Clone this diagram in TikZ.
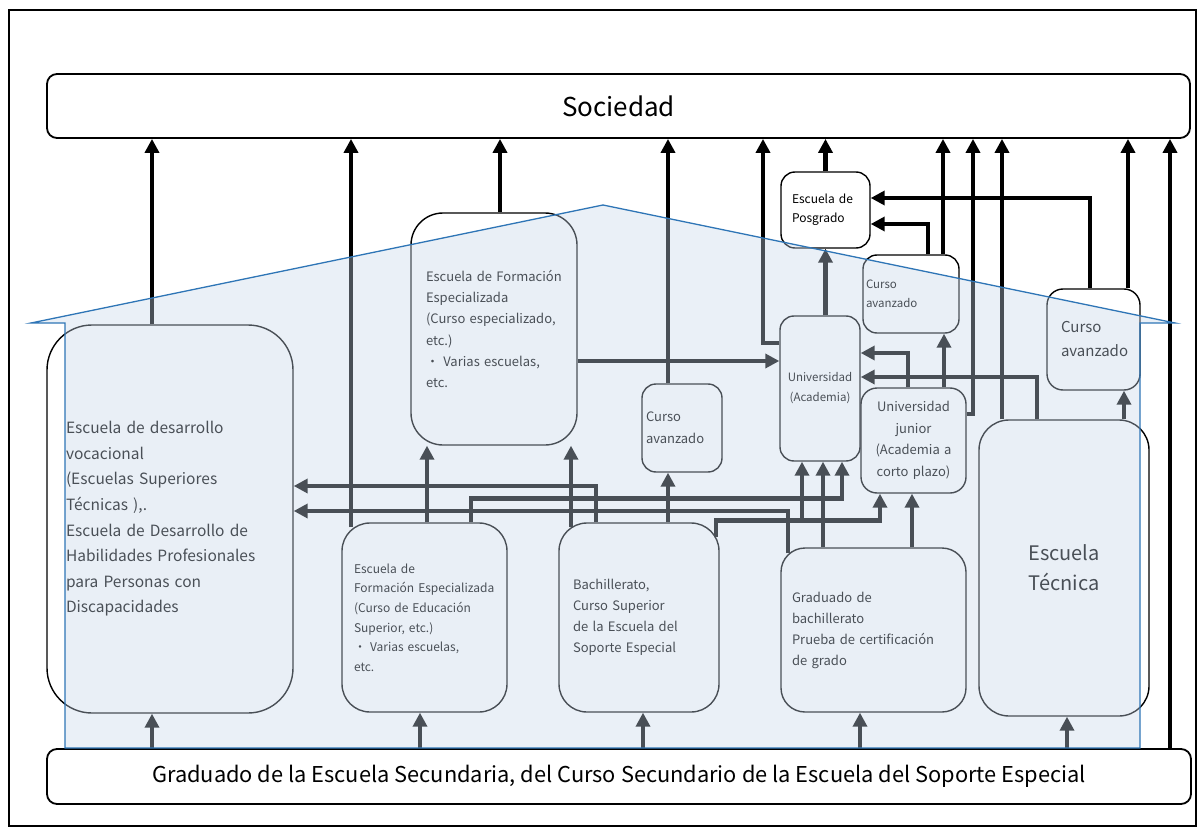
\documentclass[tikz,border=0pt]{standalone}
\usepackage{fontspec}
\setmainfont{Noto Sans CJK JP}
\usetikzlibrary{arrows.meta,calc}
\definecolor{housefill}{RGB}{198,214,233}
\definecolor{houseline}{RGB}{46,117,182}
\newcommand{\fsz}[2]{\fontsize{#1}{#2}\selectfont}
\hyphenpenalty=10000

\begin{document}
\begin{tikzpicture}[x=1pt,y=-1pt]

\tikzstyle{box} = [draw, fill=white, line width=1.4pt, rectangle,
	rounded corners=24pt, align=left, inner ysep=0pt];
\tikzstyle{arr} = [line width=4.6pt, -{Triangle[width=14pt,length=14pt]}];
\useasboundingbox (0,0) rectangle (1202,829);
\draw[line width=2.5pt] (9,10) rectangle (1196,826);

\node[box, rounded corners=10pt, line width=1.8pt, minimum width=1143pt, minimum height=64pt, align=center, font=\fsz{26}{30}] (soc) at (618.5,106) {Sociedad};
\node[box, rounded corners=10pt, line width=1.8pt, minimum width=1144pt, minimum height=55pt, align=center, font=\fsz{21.8}{24}] (grad) at (619,776.5) {Graduado de la Escuela Secundaria, del Curso Secundario de la Escuela del Soporte Especial};

\node[box, rounded corners=45pt, minimum width=246pt, minimum height=388pt, inner xsep=19pt, text width=208pt, font=\fsz{15.5}{25.6}] (dv) at (170,519) {Escuela de desarrollo\\ vocacional\\ (Escuelas Superiores\\ Técnicas ),.\\ Escuela de Desarrollo de\\ Habilidades Profesionales\\ para Personas con\\ Discapacidades};
\node[box, rounded corners=32pt, minimum width=166pt, minimum height=232pt, inner xsep=15pt, text width=136pt, font=\fsz{13}{21.3}] (efe1) at (494,329) {Escuela de Formación\\ Especializada\\ (Curso especializado,\\ etc.)\\ ・ Varias escuelas,\\ etc.};
\node[box, rounded corners=28pt, minimum width=165pt, minimum height=189pt, inner xsep=12pt, text width=141pt, font=\fsz{12}{19.6}] (efe2) at (424.5,617.5) {Escuela de\\ Formación Especializada\\ (Curso de Educación\\ Superior, etc.)\\ ・ Varias escuelas,\\ etc.};
\node[box, rounded corners=28pt, minimum width=160pt, minimum height=189pt, inner xsep=14pt, text width=132pt, font=\fsz{13}{21}] (bach) at (639,617.5) {Bachillerato,\\ Curso Superior\\ de la Escuela del\\ Soporte Especial};
\node[box, rounded corners=14pt, minimum width=80pt, minimum height=88pt, inner xsep=4pt, text width=72pt, font=\fsz{13}{22}] (ca1) at (682,428) {Curso\\ avanzado};
\node[box, rounded corners=14pt, minimum width=80pt, minimum height=145pt, inner xsep=2pt, text width=76pt, align=center, font=\fsz{11.5}{20}] (univ) at (820,388.5) {Universidad\\ (Academia)};
\node[box, rounded corners=16pt, minimum width=105pt, minimum height=105pt, inner xsep=3pt, text width=99pt, align=center, font=\fsz{13}{21.5}] (junior) at (913.5,440.5) {Universidad\\ junior\\ (Academia a\\ corto plazo)};
\node[box, rounded corners=14pt, minimum width=96pt, minimum height=78pt, inner xsep=3pt, text width=90pt, font=\fsz{11.5}{19}] (ca2) at (911,294) {Curso\\ avanzado};
\node[box, rounded corners=14pt, minimum width=89pt, minimum height=76pt, inner xsep=11pt, text width=67pt, font=\fsz{12}{19}] (posg) at (825.5,210) {Escuela de\\ Posgrado};
\node[box, rounded corners=16pt, minimum width=93pt, minimum height=101pt, inner xsep=14pt, text width=65pt, font=\fsz{15}{24}] (ca3) at (1093.5,339.5) {Curso\\ avanzado};
\node[box, rounded corners=30pt, minimum width=170pt, minimum height=296pt, inner xsep=10pt, text width=150pt, align=center, font=\fsz{20}{30}] (tec) at (1064,568) {Escuela\\ Técnica};
\node[box, rounded corners=24pt, minimum width=185pt, minimum height=164pt, inner xsep=11pt, text width=163pt, font=\fsz{13}{21}] (bg) at (873.5,630) {Graduado de\\ bachillerato\\ Prueba de certificación\\ de grado};

\draw[arr] (dv.north -| 152,0) -- (soc.south -| 152,0);
\draw[arr] ($(efe2.north -| 351,0)+(0,5)$) -- (soc.south -| 351,0);
\draw[arr] (efe1.north -| 500,0) -- (soc.south -| 500,0);
\draw[arr] (ca1.north -| 668,0) -- (soc.south -| 668,0);
\draw[arr] (univ.west |- 0,343) -| (soc.south -| 763,0);
\draw[arr] (posg.north) -- (soc.south -| posg.north);
\draw[arr] (ca2.north -| 943,0) -- (soc.south -| 943,0);
\draw[arr] (junior.east |- 0,414) -| (soc.south -| 973,0);
\draw[arr] (tec.north -| 1002,0) -- (soc.south -| 1002,0);
\draw[arr] (ca3.north -| 1128,0) -- (soc.south -| 1128,0);
\draw[arr] (grad.north -| 1170,0) -- (soc.south -| 1170,0);

\draw[arr] (ca3.north -| 1090,0) |- (posg.east |- 0,198);
\draw[arr] (ca2.north -| 928,0) |- (posg.east |- 0,224);
\draw[arr] (univ.north -| posg.south) -- (posg.south);

\draw[arr] (efe1.east |- 0,361) -- (univ.west |- 0,361);
\draw[arr] (junior.north -| 908,0) |- (univ.east |- 0,353);
\draw[arr] (tec.north -| 1037,0) |- (univ.east |- 0,377);
\draw[arr] (efe2.north -| 471,0) -- ++(0,-24) -| (univ.south -| 842,0);
\draw[arr] ($(bach.north -| 716,0)+(0,15)$) -- ++(0,-17) -| (junior.south -| 880,0);
\draw[arr] ($(bach.north -| 716,0)+(0,15)$) -- ++(0,-17) -| (univ.south -| 802,0);
\draw[arr] (bach.north -| 596,0) |- (dv.east |- 0,486);
\draw[arr] ($(bach.north -| 571,0)+(0,5)$) -- (efe1.south -| 571,0);
\draw[arr] (bach.north -| 668,0) -- (ca1.south -| 668,0);
\draw[arr] ($(bg.north -| 788,0)+(0,6)$) |- (dv.east |- 0,511);
\draw[arr] (bg.north -| 823,0) -- (univ.south -| 823,0);
\draw[arr] (bg.north -| 912,0) -- (junior.south -| 912,0);
\draw[arr] (efe2.north -| 427,0) -- (efe1.south -| 427,0);
\draw[arr] (junior.north -| 944,0) -- (ca2.south -| 944,0);
\draw[arr] (tec.north -| 1124,0) -- (ca3.south -| 1124,0);
\foreach \n/\x in {dv/152, efe2/420, bach/643, bg/860, tec/1067}
	\draw[arr] (grad.north -| \x,0) -- (\n.south -| \x,0);

\fill[housefill, fill opacity=.373] (65,748) -- (65,323) -- (31,323) -- (603,205)
	-- (1175,323) -- (1140,323) -- (1140,748) -- cycle;
\draw[houseline, line width=1.3pt] (65,748) -- (65,323) -- (31,323) -- (603,205)
	-- (1175,323) -- (1140,323) -- (1140,748) -- cycle;

\end{tikzpicture}
\end{document}
